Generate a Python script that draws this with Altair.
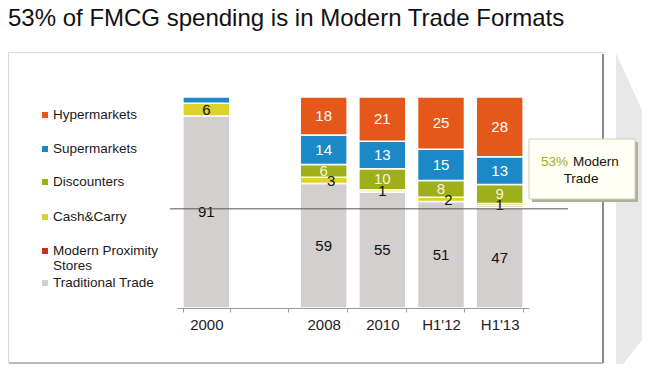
import altair as alt
import pandas as pd

# ---- data ----
periods = ["2000", "2008", "2010", "H1'12", "H1'13"]
categories = ["Traditional Trade", "Modern Proximity Stores", "Cash&Carry",
              "Discounters", "Supermarkets", "Hypermarkets"]
traditional = [91, 59, 55, 51, 47]
proximity = [0, 0, 0, 0, 1]
cash_carry = [6, 3, 1, 2, 1]
discounters = [0, 6, 10, 8, 9]
supermarkets = [3, 14, 13, 15, 13]
hypermarkets = [0, 18, 21, 25, 28]
hidden_labels = [("2000", "Supermarkets"), ("H1'13", "Modern Proximity Stores")]
reference_level = 47
callout_share = "53%"
title_text = "53% of FMCG spending is in Modern Trade Formats"

# styling (kept apart from the data)
colors = ["#D3CFCF", "#C8302A", "#DDD22C", "#9DB01C", "#1B88C8", "#E5581A"]
label_colors = {"dark": "#111111", "white": "#FFFFFF", "light": "#FAF5D0"}
nudged_labels = [("2008", "Cash&Carry"), ("H1'12", "Cash&Carry")]

series = [traditional, proximity, cash_carry, discounters, supermarkets, hypermarkets]
rows = []
for ci, (cat, vals) in enumerate(zip(categories, series)):
    for p, v in zip(periods, vals):
        if v <= 0:
            continue
        if cat in ("Hypermarkets", "Supermarkets"):
            lc = "white"
        elif cat == "Discounters":
            lc = "light"
        else:
            lc = "dark"
        if v <= 3:
            lc = "dark"
        rows.append({"period": p, "category": cat, "value": v, "ord": ci,
                     "lc": lc, "show": (p, cat) not in hidden_labels,
                     "nudge": (p, cat) in nudged_labels})
df = pd.DataFrame(rows)

x_domain = ["2000", "_gap", "2008", "2010", "H1'12", "H1'13"]
xscale = alt.Scale(domain=x_domain, range=[169, 521], paddingInner=0.2, paddingOuter=0.1)
yscale = alt.Scale(domain=[0, 1], range=[300, 89], nice=False, zero=True)
FONT = "Liberation Sans"
H = 356

base = alt.Chart(df)

bars = base.mark_bar(stroke="white", strokeWidth=1.5).encode(
    x=alt.X("period:N", scale=xscale, title=None,
            axis=alt.Axis(labelExpr="datum.value == '_gap' ? '' : datum.label",
                          tickBand="extent", labelFontSize=15, labelFont=FONT,
                          labelColor="#222222", domainColor="#9A9A9A", tickColor="#9A9A9A",
                          tickSize=4, labelPadding=5, labelAngle=0, grid=False,
                          offset=-(H - 300), zindex=1)),
    y=alt.Y("value:Q", stack="normalize", scale=yscale, axis=None),
    color=alt.Color("category:N", scale=alt.Scale(domain=categories, range=colors), legend=None),
    order=alt.Order("ord:Q", sort="ascending"),
)

label_base = base.transform_joinaggregate(
    total="sum(value)", groupby=["period"]
).transform_calculate(
    frac="datum.value / datum.total"
).transform_stack(
    stack="frac", groupby=["period"], as_=["y0", "y1"],
    sort=[alt.SortField("ord", order="ascending")],
).transform_calculate(
    mid="(datum.y0 + datum.y1) / 2"
).transform_filter("datum.show")

label_enc = dict(
    x=alt.X("period:N", scale=xscale),
    y=alt.Y("mid:Q", scale=yscale),
    text=alt.Text("value:Q"),
    color=alt.Color("lc:N", scale=alt.Scale(domain=list(label_colors.keys()),
                                            range=list(label_colors.values())), legend=None),
)
labels = label_base.transform_filter("!datum.nudge").mark_text(
    fontSize=15, font=FONT, baseline="middle", align="center").encode(**label_enc)
labels_nudged = label_base.transform_filter("datum.nudge").mark_text(
    fontSize=15, font=FONT, baseline="middle", align="center", dx=7.5, dy=1).encode(**label_enc)

one = pd.DataFrame({"k": [0]})
deco = alt.Chart(one)

# decorative grey chevron on the right
chevron = deco.mark_point(
    shape="M -0.10625 -1 L 0.10625 -0.53125 L 0.10625 0.73125 L -0.10625 1 Z",
    filled=True, fill="#E8E8E8", opacity=1, size=102400, strokeWidth=0,
).encode(x=alt.value(625), y=alt.value(205))

panel = deco.mark_rect(fill="white", stroke="#DADADA", strokeWidth=1).encode(
    x=alt.value(0.5), x2=alt.value(595), y=alt.value(44.5), y2=alt.value(355))
panel_right = deco.mark_rule(color="#8C8C8C", strokeWidth=2).encode(
    x=alt.value(595), y=alt.value(46), y2=alt.value(355))
panel_bottom = deco.mark_rule(color="#A8A8A8", strokeWidth=1.5).encode(
    x=alt.value(1), x2=alt.value(595), y=alt.value(355))

ref_rule = deco.mark_rule(color="#555555", strokeWidth=1).encode(
    x=alt.value(162), x2=alt.value(560),
    y=alt.Y(datum=reference_level / 100, scale=yscale))

callout_shadow = deco.mark_rect(fill="#AEB09C").encode(
    x=alt.value(524), x2=alt.value(630), y=alt.value(134), y2=alt.value(194))
callout_box = deco.mark_rect(fill="#FFFFF5", stroke="#CFCFB8", strokeWidth=1).encode(
    x=alt.value(521), x2=alt.value(627), y=alt.value(131), y2=alt.value(191))
callout_pct = deco.mark_text(fontSize=13.5, font=FONT, align="left", baseline="middle",
                             color="#9DB01C").encode(
    x=alt.value(533), y=alt.value(154), text=alt.value(callout_share))
callout_t1 = deco.mark_text(fontSize=13.5, font=FONT, align="left", baseline="middle",
                            color="#111111").encode(
    x=alt.value(565), y=alt.value(154), text=alt.value("Modern"))
callout_t2 = deco.mark_text(fontSize=13.5, font=FONT, align="center", baseline="middle",
                            color="#111111").encode(
    x=alt.value(573), y=alt.value(171), text=alt.value("Trade"))

# manual legend (top to bottom)
legend_items = [
    ("Hypermarkets", "Hypermarkets", 107),
    ("Supermarkets", "Supermarkets", 141),
    ("Discounters", "Discounters", 174),
    ("Cash&Carry", "Cash&Carry", 209),
    ("Modern Proximity Stores", ["Modern Proximity", "Stores"], 243),
    ("Traditional Trade", "Traditional Trade", 275),
]
legend_layers = []
for cat, txt, yy in legend_items:
    col = colors[categories.index(cat)]
    legend_layers.append(deco.mark_square(size=36, opacity=1, color=col).encode(
        x=alt.value(37), y=alt.value(yy)))
    legend_layers.append(deco.mark_text(fontSize=13.5, font=FONT, align="left",
                                        baseline="middle", color="#1A1A1A",
                                        lineHeight=15).encode(
        x=alt.value(45), y=alt.value(yy), text=alt.value(txt)))

title = deco.mark_text(fontSize=24, font=FONT, align="left", baseline="alphabetic",
                       color="#111111").encode(
    x=alt.value(0), y=alt.value(18), text=alt.value(title_text))

chart = alt.layer(
    chevron, panel, panel_right, panel_bottom, bars, labels, labels_nudged, ref_rule,
    callout_shadow, callout_box, callout_pct, callout_t1, callout_t2,
    *legend_layers, title,
).resolve_scale(color="independent").properties(
    width=634, height=H,
    autosize=alt.AutoSizeParams(type="none"),
    padding=0,
    background="white",
).configure_view(stroke=None)

chart.save("out.html", embed_options={"renderer": "svg", "actions": False})
